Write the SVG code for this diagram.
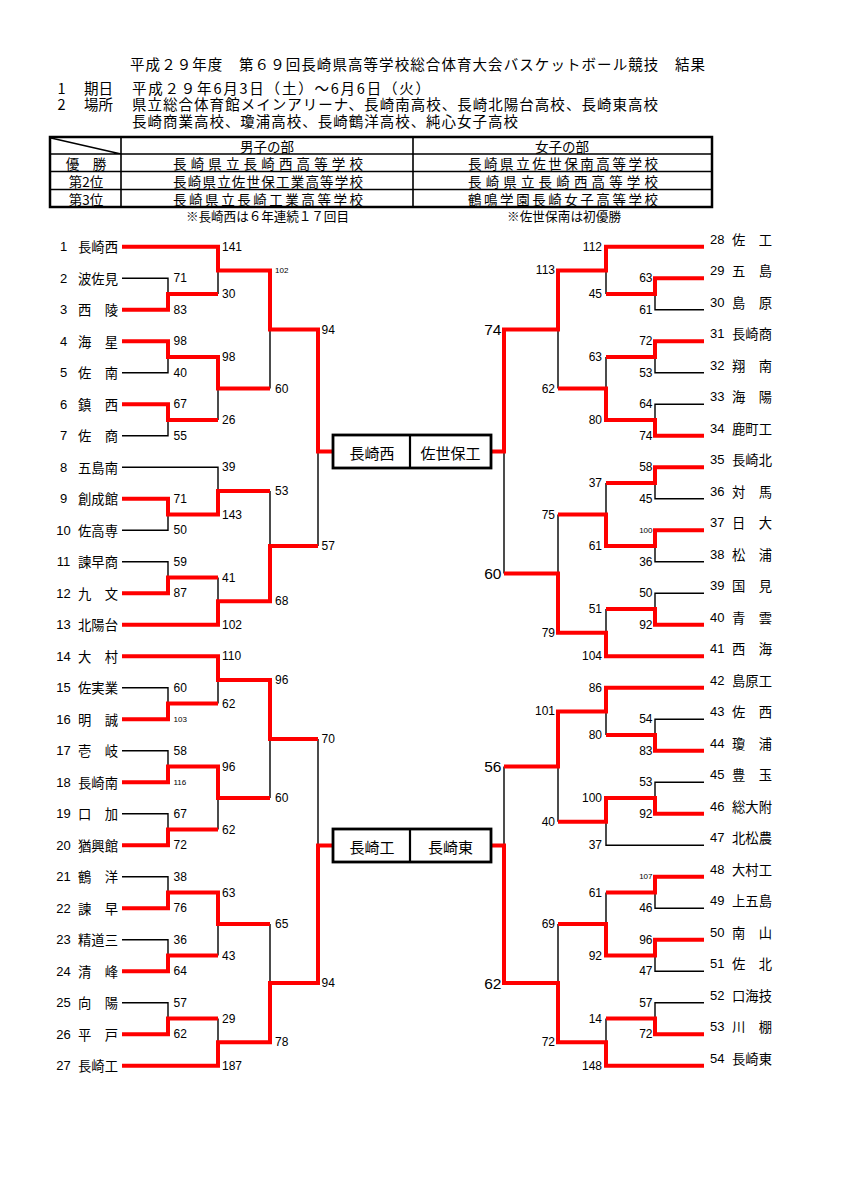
<svg xmlns="http://www.w3.org/2000/svg" width="849" height="1200" viewBox="0 0 849 1200">
<style>
.r{fill:none;stroke:#ff0000;stroke-width:4;stroke-linejoin:miter}
.k{fill:none;stroke:#000;stroke-width:1.4}
.j{font-family:"Noto Sans CJK JP","Noto Sans CJK SC",sans-serif;dominant-baseline:central;fill:#000}
.h{font-size:14.5px}
.t{font-size:13.5px}
.nm{font-size:13.3px}
.bx{font-size:15px;text-anchor:middle}
.d{font-family:"Liberation Sans",Arial,sans-serif;dominant-baseline:central;fill:#000}
.num{font-size:13px}
.sc{font-size:12px}
.sm{font-size:8px}
.lg{font-size:15.5px}
.e{text-anchor:end}
.m{text-anchor:middle}
.box{fill:#fff;stroke:#000;stroke-width:2.8}
.tb{fill:none;stroke:#000;stroke-width:2.5}
.tl{fill:none;stroke:#000;stroke-width:1.6}
</style>
<rect width="849" height="1200" fill="#fff"/>
<g id="header">
<text class="j h" x="130" y="63" textLength="575" lengthAdjust="spacing">平成２９年度　第６９回長崎県高等学校総合体育大会バスケットボール競技　結果</text>
<text class="j h" x="57.5" y="87">1</text>
<text class="j h" x="84" y="87" textLength="29" lengthAdjust="spacing">期日</text>
<text class="j h" x="132" y="87" textLength="298" lengthAdjust="spacing">平成２９年6月3日（土）～6月6日（火）</text>
<text class="j h" x="57.5" y="103.5">2</text>
<text class="j h" x="84" y="103.5" textLength="29" lengthAdjust="spacing">場所</text>
<text class="j h" x="132" y="103.5" textLength="526" lengthAdjust="spacing">県立総合体育館メインアリーナ、長崎南高校、長崎北陽台高校、長崎東高校</text>
<text class="j h" x="132" y="120" textLength="386" lengthAdjust="spacing">長崎商業高校、瓊浦高校、長崎鶴洋高校、純心女子高校</text>
</g>
<g id="result-table">
<rect class="tb" x="50" y="137" width="662" height="70"/>
<path class="tl" d="M50,154H712M50,171.5H712M50,189.5H712M121,137V207M413,137V207M51,138L121,154"/>
<text class="j t m" x="267" y="146">男子の部</text>
<text class="j t m" x="562" y="146">女子の部</text>
<text class="j t m" x="86" y="163">優　勝</text>
<text class="j t m" x="86" y="180.5">第2位</text>
<text class="j t m" x="86" y="198.5">第3位</text>
<text class="j t" x="173" y="163" textLength="190" lengthAdjust="spacing">長崎県立長崎西高等学校</text>
<text class="j t" x="173" y="180.5" textLength="190" lengthAdjust="spacing">長崎県立佐世保工業高等学校</text>
<text class="j t" x="173" y="198.5" textLength="190" lengthAdjust="spacing">長崎県立長崎工業高等学校</text>
<text class="j t" x="468" y="163" textLength="190" lengthAdjust="spacing">長崎県立佐世保南高等学校</text>
<text class="j t" x="468" y="180.5" textLength="190" lengthAdjust="spacing">長崎県立長崎西高等学校</text>
<text class="j t" x="468" y="198.5" textLength="190" lengthAdjust="spacing">鶴鳴学園長崎女子高等学校</text>
<text class="j" style="font-size:12.6px" x="186" y="215.5" textLength="163" lengthAdjust="spacing">※長崎西は６年連続１７回目</text>
<text class="j" style="font-size:12.6px" x="507" y="215.5" textLength="114" lengthAdjust="spacing">※佐世保南は初優勝</text>
</g>
<g id="connectors">
<path class="k" d="M122,278.3H168V294.05M122,372.8H168V357.05M122,435.8H168V420.05M218,270.4V294.05M218,388.55V420.05M270,329.5V388.55M318,451.5V546.05M122,467.3H218V490.9M122,530.3H168V514.55M122,561.8H168V577.55M218,577.55V601.2M270,490.9V546.05M122,687.8H168V703.55M122,750.8H168V766.55M122,813.8H168V829.55M218,679.9V703.55M218,798.05V829.55M270,738.95V798.05M318,738.95V845.5M122,876.8H168V892.55M122,939.8H168V955.55M122,1002.8H168V1018.55M218,924.05V955.55M218,1018.55V1042.2M270,924.05V983.1"/>
<path class="k" d="M704,309.8H655V294.05M704,372.8H655V357.05M704,404.3H655V420.05M606,270.4V294.05M606,357.05V388.55M558,329.5V388.55M504,451.5V573.6M704,498.8H655V483.05M704,561.8H655V546.05M704,593.3H655V609.05M606,483.05V514.55M606,609.05V632.7M558,514.55V573.6M704,719.3H655V735.05M704,782.3H655V798.05M704,845.3H606V821.7M606,711.4V735.05M558,766.55V821.7M504,766.55V845.5M704,908.3H655V892.55M704,971.3H655V955.55M704,1002.8H655V1018.55M606,892.55V924.05M606,1018.55V1042.2M558,924.05V983.1"/>
<path class="r" d="M122,246.8H218V270.4H270V329.5H318V451.5H333"/>
<path class="r" d="M122,309.8H168V294.05H218"/>
<path class="r" d="M122,341.3H168V357.05H218V388.55H270"/>
<path class="r" d="M122,404.3H168V420.05H218"/>
<path class="r" d="M122,498.8H168V514.55H218V490.9H270"/>
<path class="r" d="M122,593.3H168V577.55H218"/>
<path class="r" d="M122,624.8H218V601.2H270V546.05H318"/>
<path class="r" d="M122,656.3H218V679.9H270V738.95H318"/>
<path class="r" d="M122,719.3H168V703.55H218"/>
<path class="r" d="M122,782.3H168V766.55H218V798.05H270"/>
<path class="r" d="M122,845.3H168V829.55H218"/>
<path class="r" d="M122,908.3H168V892.55H218V924.05H270"/>
<path class="r" d="M122,971.3H168V955.55H218"/>
<path class="r" d="M122,1034.3H168V1018.55H218"/>
<path class="r" d="M122,1065.8H218V1042.2H270V983.1H318V845.5H333"/>
<path class="r" d="M704,246.8H606V270.4H558V329.5H504V451.5H491"/>
<path class="r" d="M704,278.3H655V294.05H606"/>
<path class="r" d="M704,341.3H655V357.05H606"/>
<path class="r" d="M704,435.8H655V420.05H606V388.55H558"/>
<path class="r" d="M704,467.3H655V483.05H606"/>
<path class="r" d="M704,530.3H655V546.05H606V514.55H558"/>
<path class="r" d="M704,624.8H655V609.05H606"/>
<path class="r" d="M704,656.3H606V632.7H558V573.6H504"/>
<path class="r" d="M704,687.8H606V711.4H558V766.55H504"/>
<path class="r" d="M704,750.8H655V735.05H606"/>
<path class="r" d="M704,813.8H655V798.05H606V821.7H558"/>
<path class="r" d="M704,876.8H655V892.55H606"/>
<path class="r" d="M704,939.8H655V955.55H606V924.05H558"/>
<path class="r" d="M704,1034.3H655V1018.55H606"/>
<path class="r" d="M704,1065.8H606V1042.2H558V983.1H504V845.5H491"/>
</g>
<g id="scores-left" class="d sc">
<text x="173.5" y="278.3">71</text><text x="173.5" y="309.8">83</text>
<text x="173.5" y="341.3">98</text><text x="173.5" y="372.8">40</text>
<text x="173.5" y="404.3">67</text><text x="173.5" y="435.8">55</text>
<text x="173.5" y="498.8">71</text><text x="173.5" y="530.3">50</text>
<text x="173.5" y="561.8">59</text><text x="173.5" y="593.3">87</text>
<text x="173.5" y="687.8">60</text><text class="sm" x="173.5" y="719.3">103</text>
<text x="173.5" y="750.8">58</text><text class="sm" x="173.5" y="782.3">116</text>
<text x="173.5" y="813.8">67</text><text x="173.5" y="845.3">72</text>
<text x="173.5" y="876.8">38</text><text x="173.5" y="908.3">76</text>
<text x="173.5" y="939.8">36</text><text x="173.5" y="971.3">64</text>
<text x="173.5" y="1002.8">57</text><text x="173.5" y="1034.3">62</text>
<text x="222" y="246.8">141</text><text x="222" y="294.05">30</text>
<text x="222" y="357.05">98</text><text x="222" y="420.05">26</text>
<text x="222" y="467.3">39</text><text x="222" y="514.55">143</text>
<text x="222" y="577.55">41</text><text x="222" y="624.8">102</text>
<text x="222" y="656.3">110</text><text x="222" y="703.55">62</text>
<text x="222" y="766.55">96</text><text x="222" y="829.55">62</text>
<text x="222" y="892.55">63</text><text x="222" y="955.55">43</text>
<text x="222" y="1018.55">29</text><text x="222" y="1065.8">187</text>
<text class="sm" x="275" y="270.4">102</text><text x="275" y="388.55">60</text>
<text x="275" y="490.9">53</text><text x="275" y="601.2">68</text>
<text x="275" y="679.9">96</text><text x="275" y="798.05">60</text>
<text x="275" y="924.05">65</text><text x="275" y="1042.2">78</text>
<text x="321.5" y="329.5">94</text><text x="321.5" y="546.05">57</text>
<text x="321.5" y="738.95">70</text><text x="321.5" y="983.1">94</text>
</g>
<g id="scores-right" class="d sc e">
<text x="652.5" y="278.3">63</text><text x="652.5" y="309.8">61</text>
<text x="652.5" y="341.3">72</text><text x="652.5" y="372.8">53</text>
<text x="652.5" y="404.3">64</text><text x="652.5" y="435.8">74</text>
<text x="652.5" y="467.3">58</text><text x="652.5" y="498.8">45</text>
<text class="sm" x="652.5" y="530.3">100</text><text x="652.5" y="561.8">36</text>
<text x="652.5" y="593.3">50</text><text x="652.5" y="624.8">92</text>
<text x="652.5" y="719.3">54</text><text x="652.5" y="750.8">83</text>
<text x="652.5" y="782.3">53</text><text x="652.5" y="813.8">92</text>
<text class="sm" x="652.5" y="876.8">107</text><text x="652.5" y="908.3">46</text>
<text x="652.5" y="939.8">96</text><text x="652.5" y="971.3">47</text>
<text x="652.5" y="1002.8">57</text><text x="652.5" y="1034.3">72</text>
<text x="602" y="246.8">112</text><text x="602" y="294.05">45</text>
<text x="602" y="357.05">63</text><text x="602" y="420.05">80</text>
<text x="602" y="483.05">37</text><text x="602" y="546.05">61</text>
<text x="602" y="609.05">51</text><text x="602" y="656.3">104</text>
<text x="602" y="687.8">86</text><text x="602" y="735.05">80</text>
<text x="602" y="798.05">100</text><text x="602" y="845.3">37</text>
<text x="602" y="892.55">61</text><text x="602" y="955.55">92</text>
<text x="602" y="1018.55">14</text><text x="602" y="1065.8">148</text>
<text x="555" y="270.4">113</text><text x="555" y="388.55">62</text>
<text x="555" y="514.55">75</text><text x="555" y="632.7">79</text>
<text x="555" y="711.4">101</text><text x="555" y="821.7">40</text>
<text x="555" y="924.05">69</text><text x="555" y="1042.2">72</text>
<text class="lg" x="501.5" y="329.5">74</text><text class="lg" x="501.5" y="573.6">60</text>
<text class="lg" x="501.5" y="766.55">56</text><text class="lg" x="501.5" y="983.1">62</text>
</g>
<g id="final-1">
<rect class="box" x="333" y="435" width="158" height="33"/>
<line x1="410" y1="435" x2="410" y2="468" stroke="#000" stroke-width="2.2"/>
<text class="j bx" x="372" y="452">長崎西</text>
<text class="j bx" x="450.5" y="452">佐世保工</text>
</g>
<g id="final-2">
<rect class="box" x="333" y="829" width="158" height="33"/>
<line x1="410" y1="829" x2="410" y2="862" stroke="#000" stroke-width="2.2"/>
<text class="j bx" x="372" y="846">長崎工</text>
<text class="j bx" x="450.5" y="846">長崎東</text>
</g>
<g id="teams-left">
<g id="team-1"><text class="d num m" x="63.5" y="246.8">1</text><text class="j nm" x="78" y="246.8" textLength="40" lengthAdjust="spacing">長崎西</text></g>
<g id="team-2"><text class="d num m" x="63.5" y="278.3">2</text><text class="j nm" x="78" y="278.3" textLength="40" lengthAdjust="spacing">波佐見</text></g>
<g id="team-3"><text class="d num m" x="63.5" y="309.8">3</text><text class="j nm" x="78" y="309.8" textLength="40" lengthAdjust="spacing">西　陵</text></g>
<g id="team-4"><text class="d num m" x="63.5" y="341.3">4</text><text class="j nm" x="78" y="341.3" textLength="40" lengthAdjust="spacing">海　星</text></g>
<g id="team-5"><text class="d num m" x="63.5" y="372.8">5</text><text class="j nm" x="78" y="372.8" textLength="40" lengthAdjust="spacing">佐　南</text></g>
<g id="team-6"><text class="d num m" x="63.5" y="404.3">6</text><text class="j nm" x="78" y="404.3" textLength="40" lengthAdjust="spacing">鎮　西</text></g>
<g id="team-7"><text class="d num m" x="63.5" y="435.8">7</text><text class="j nm" x="78" y="435.8" textLength="40" lengthAdjust="spacing">佐　商</text></g>
<g id="team-8"><text class="d num m" x="63.5" y="467.3">8</text><text class="j nm" x="78" y="467.3" textLength="40" lengthAdjust="spacing">五島南</text></g>
<g id="team-9"><text class="d num m" x="63.5" y="498.8">9</text><text class="j nm" x="78" y="498.8" textLength="40" lengthAdjust="spacing">創成館</text></g>
<g id="team-10"><text class="d num m" x="63.5" y="530.3">10</text><text class="j nm" x="78" y="530.3" textLength="40" lengthAdjust="spacing">佐高専</text></g>
<g id="team-11"><text class="d num m" x="63.5" y="561.8">11</text><text class="j nm" x="78" y="561.8" textLength="40" lengthAdjust="spacing">諫早商</text></g>
<g id="team-12"><text class="d num m" x="63.5" y="593.3">12</text><text class="j nm" x="78" y="593.3" textLength="40" lengthAdjust="spacing">九　文</text></g>
<g id="team-13"><text class="d num m" x="63.5" y="624.8">13</text><text class="j nm" x="78" y="624.8" textLength="40" lengthAdjust="spacing">北陽台</text></g>
<g id="team-14"><text class="d num m" x="63.5" y="656.3">14</text><text class="j nm" x="78" y="656.3" textLength="40" lengthAdjust="spacing">大　村</text></g>
<g id="team-15"><text class="d num m" x="63.5" y="687.8">15</text><text class="j nm" x="78" y="687.8" textLength="40" lengthAdjust="spacing">佐実業</text></g>
<g id="team-16"><text class="d num m" x="63.5" y="719.3">16</text><text class="j nm" x="78" y="719.3" textLength="40" lengthAdjust="spacing">明　誠</text></g>
<g id="team-17"><text class="d num m" x="63.5" y="750.8">17</text><text class="j nm" x="78" y="750.8" textLength="40" lengthAdjust="spacing">壱　岐</text></g>
<g id="team-18"><text class="d num m" x="63.5" y="782.3">18</text><text class="j nm" x="78" y="782.3" textLength="40" lengthAdjust="spacing">長崎南</text></g>
<g id="team-19"><text class="d num m" x="63.5" y="813.8">19</text><text class="j nm" x="78" y="813.8" textLength="40" lengthAdjust="spacing">口　加</text></g>
<g id="team-20"><text class="d num m" x="63.5" y="845.3">20</text><text class="j nm" x="78" y="845.3" textLength="40" lengthAdjust="spacing">猶興館</text></g>
<g id="team-21"><text class="d num m" x="63.5" y="876.8">21</text><text class="j nm" x="78" y="876.8" textLength="40" lengthAdjust="spacing">鶴　洋</text></g>
<g id="team-22"><text class="d num m" x="63.5" y="908.3">22</text><text class="j nm" x="78" y="908.3" textLength="40" lengthAdjust="spacing">諫　早</text></g>
<g id="team-23"><text class="d num m" x="63.5" y="939.8">23</text><text class="j nm" x="78" y="939.8" textLength="40" lengthAdjust="spacing">精道三</text></g>
<g id="team-24"><text class="d num m" x="63.5" y="971.3">24</text><text class="j nm" x="78" y="971.3" textLength="40" lengthAdjust="spacing">清　峰</text></g>
<g id="team-25"><text class="d num m" x="63.5" y="1002.8">25</text><text class="j nm" x="78" y="1002.8" textLength="40" lengthAdjust="spacing">向　陽</text></g>
<g id="team-26"><text class="d num m" x="63.5" y="1034.3">26</text><text class="j nm" x="78" y="1034.3" textLength="40" lengthAdjust="spacing">平　戸</text></g>
<g id="team-27"><text class="d num m" x="63.5" y="1065.8">27</text><text class="j nm" x="78" y="1065.8" textLength="40" lengthAdjust="spacing">長崎工</text></g>
</g>
<g id="teams-right">
<g id="team-28"><text class="d num" x="710" y="239.3">28</text><text class="j nm" x="732" y="239.3" textLength="40" lengthAdjust="spacing">佐　工</text></g>
<g id="team-29"><text class="d num" x="710" y="270.8">29</text><text class="j nm" x="732" y="270.8" textLength="40" lengthAdjust="spacing">五　島</text></g>
<g id="team-30"><text class="d num" x="710" y="302.3">30</text><text class="j nm" x="732" y="302.3" textLength="40" lengthAdjust="spacing">島　原</text></g>
<g id="team-31"><text class="d num" x="710" y="333.8">31</text><text class="j nm" x="732" y="333.8" textLength="40" lengthAdjust="spacing">長崎商</text></g>
<g id="team-32"><text class="d num" x="710" y="365.3">32</text><text class="j nm" x="732" y="365.3" textLength="40" lengthAdjust="spacing">翔　南</text></g>
<g id="team-33"><text class="d num" x="710" y="396.8">33</text><text class="j nm" x="732" y="396.8" textLength="40" lengthAdjust="spacing">海　陽</text></g>
<g id="team-34"><text class="d num" x="710" y="428.3">34</text><text class="j nm" x="732" y="428.3" textLength="40" lengthAdjust="spacing">鹿町工</text></g>
<g id="team-35"><text class="d num" x="710" y="459.8">35</text><text class="j nm" x="732" y="459.8" textLength="40" lengthAdjust="spacing">長崎北</text></g>
<g id="team-36"><text class="d num" x="710" y="491.3">36</text><text class="j nm" x="732" y="491.3" textLength="40" lengthAdjust="spacing">対　馬</text></g>
<g id="team-37"><text class="d num" x="710" y="522.8">37</text><text class="j nm" x="732" y="522.8" textLength="40" lengthAdjust="spacing">日　大</text></g>
<g id="team-38"><text class="d num" x="710" y="554.3">38</text><text class="j nm" x="732" y="554.3" textLength="40" lengthAdjust="spacing">松　浦</text></g>
<g id="team-39"><text class="d num" x="710" y="585.8">39</text><text class="j nm" x="732" y="585.8" textLength="40" lengthAdjust="spacing">国　見</text></g>
<g id="team-40"><text class="d num" x="710" y="617.3">40</text><text class="j nm" x="732" y="617.3" textLength="40" lengthAdjust="spacing">青　雲</text></g>
<g id="team-41"><text class="d num" x="710" y="648.8">41</text><text class="j nm" x="732" y="648.8" textLength="40" lengthAdjust="spacing">西　海</text></g>
<g id="team-42"><text class="d num" x="710" y="680.3">42</text><text class="j nm" x="732" y="680.3" textLength="40" lengthAdjust="spacing">島原工</text></g>
<g id="team-43"><text class="d num" x="710" y="711.8">43</text><text class="j nm" x="732" y="711.8" textLength="40" lengthAdjust="spacing">佐　西</text></g>
<g id="team-44"><text class="d num" x="710" y="743.3">44</text><text class="j nm" x="732" y="743.3" textLength="40" lengthAdjust="spacing">瓊　浦</text></g>
<g id="team-45"><text class="d num" x="710" y="774.8">45</text><text class="j nm" x="732" y="774.8" textLength="40" lengthAdjust="spacing">豊　玉</text></g>
<g id="team-46"><text class="d num" x="710" y="806.3">46</text><text class="j nm" x="732" y="806.3" textLength="40" lengthAdjust="spacing">総大附</text></g>
<g id="team-47"><text class="d num" x="710" y="837.8">47</text><text class="j nm" x="732" y="837.8" textLength="40" lengthAdjust="spacing">北松農</text></g>
<g id="team-48"><text class="d num" x="710" y="869.3">48</text><text class="j nm" x="732" y="869.3" textLength="40" lengthAdjust="spacing">大村工</text></g>
<g id="team-49"><text class="d num" x="710" y="900.8">49</text><text class="j nm" x="732" y="900.8" textLength="40" lengthAdjust="spacing">上五島</text></g>
<g id="team-50"><text class="d num" x="710" y="932.3">50</text><text class="j nm" x="732" y="932.3" textLength="40" lengthAdjust="spacing">南　山</text></g>
<g id="team-51"><text class="d num" x="710" y="963.8">51</text><text class="j nm" x="732" y="963.8" textLength="40" lengthAdjust="spacing">佐　北</text></g>
<g id="team-52"><text class="d num" x="710" y="995.3">52</text><text class="j nm" x="732" y="995.3" textLength="40" lengthAdjust="spacing">口海技</text></g>
<g id="team-53"><text class="d num" x="710" y="1026.8">53</text><text class="j nm" x="732" y="1026.8" textLength="40" lengthAdjust="spacing">川　棚</text></g>
<g id="team-54"><text class="d num" x="710" y="1058.3">54</text><text class="j nm" x="732" y="1058.3" textLength="40" lengthAdjust="spacing">長崎東</text></g>
</g>
</svg>
